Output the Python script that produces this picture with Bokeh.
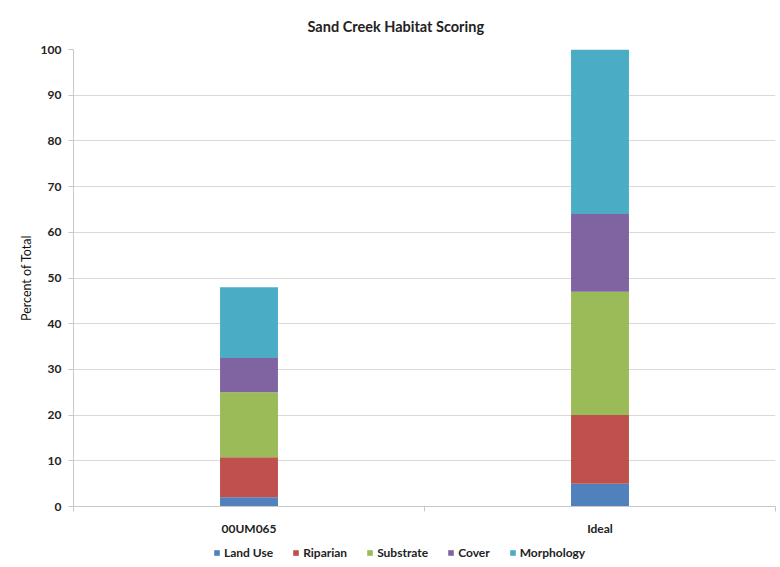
from bokeh.plotting import figure
from bokeh.layouts import column
from bokeh.models import ColumnDataSource, FixedTicker, Legend, LegendItem, Range1d, Title
from bokeh.embed import file_html
from bokeh.resources import INLINE

categories = ["00UM065", "Ideal"]
components = ["Land Use", "Riparian", "Substrate", "Cover", "Morphology"]
land_use = [2, 5]
riparian = [8.8, 15]
substrate = [14.2, 27]
cover = [7.5, 17]
morphology = [15.5, 36]
colors = ["#4F81BD", "#C0504D", "#9BBB59", "#8064A2", "#4BACC6"]
y_ticks = [0, 10, 20, 30, 40, 50, 60, 70, 80, 90, 100]

FONT = "Lato"

xpos = [i + 0.5 for i in range(len(categories))]
data = {"x": xpos}
for name, vals in zip(components, [land_use, riparian, substrate, cover, morphology]):
    data[name] = vals
source = ColumnDataSource(data)

p = figure(width=780, height=538, output_backend="svg", toolbar_location=None,
           x_range=Range1d(0, len(categories)), y_range=Range1d(0, 100),
           min_border_left=73, min_border_right=5, min_border_top=49, min_border_bottom=30)

renderers = p.vbar_stack(components, x="x", width=0.165, color=colors, source=source,
                         line_color=None)

title = Title(text="Sand Creek Habitat Scoring", align="left", offset=234, text_font=FONT,
              text_font_size="14.5px", text_font_style="bold", text_color="#222222",
              standoff=29)
p.add_layout(title, "above")

# y axis
p.yaxis.ticker = FixedTicker(ticks=y_ticks)
p.yaxis.axis_label = "Percent of Total"
p.yaxis.axis_label_text_font = FONT
p.yaxis.axis_label_text_font_size = "12.5px"
p.yaxis.axis_label_text_font_style = "normal"
p.yaxis.axis_label_text_color = "#111111"
p.yaxis.axis_label_standoff = 4
p.yaxis.major_label_text_font = FONT
p.yaxis.major_label_text_font_size = "12px"
p.yaxis.major_label_text_font_style = "bold"
p.yaxis.major_label_text_color = "#222222"
p.yaxis.axis_line_color = "#c8c8c8"
p.yaxis.major_tick_line_color = "#c8c8c8"
p.yaxis.major_tick_out = 5
p.yaxis.major_tick_in = 0
p.yaxis.minor_tick_line_color = None
p.yaxis.major_label_standoff = 7

# x axis with ticks between categories
p.xaxis.ticker = FixedTicker(ticks=xpos, minor_ticks=list(range(len(categories) + 1)))
p.xaxis.major_label_overrides = {x: c for x, c in zip(xpos, categories)}
p.xaxis.major_label_text_font = FONT
p.xaxis.major_label_text_font_size = "12px"
p.xaxis.major_label_text_font_style = "bold"
p.xaxis.major_label_text_color = "#222222"
p.xaxis.major_tick_line_color = None
p.xaxis.minor_tick_line_color = "#c8c8c8"
p.xaxis.minor_tick_out = 5
p.xaxis.minor_tick_in = 0
p.xaxis.axis_line_color = "#c8c8c8"
p.xaxis.major_label_standoff = 8

p.xgrid.grid_line_color = None
p.ygrid.grid_line_color = "#d9d9d9"
p.ygrid.ticker = FixedTicker(ticks=y_ticks)
p.outline_line_color = None

# legend strip below the chart (its own bars sit outside its visible range)
p2 = figure(width=780, height=29, output_backend="svg", toolbar_location=None,
            x_range=Range1d(0, len(categories)), y_range=Range1d(1000, 1001),
            min_border_left=73, min_border_right=5, min_border_top=0, min_border_bottom=0)
p2.axis.visible = False
p2.grid.grid_line_color = None
p2.outline_line_color = None
leg_renderers = p2.vbar_stack(components, x="x", width=0.165, color=colors, source=source,
                              line_color=None)
legend = Legend(items=[LegendItem(label=n, renderers=[r]) for n, r in zip(components, leg_renderers)],
                orientation="horizontal", location=(140, 7),
                label_text_font=FONT, label_text_font_size="12px", label_text_font_style="bold",
                label_text_color="#222222", glyph_width=7, glyph_height=7,
                label_standoff=4, spacing=19, border_line_color=None, padding=0, margin=0,
                background_fill_alpha=0)
p2.add_layout(legend, "center")

open("out.html", "w").write(file_html(column(p, p2, spacing=0), INLINE))
